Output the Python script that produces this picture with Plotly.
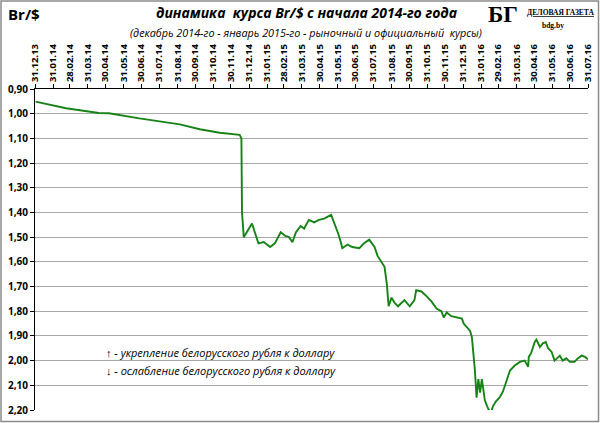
import plotly.graph_objects as go

# Br/$ rate (new rubles)
dates = [
    '2014-01-01', '2014-02-22', '2014-04-19', '2014-05-06', '2014-06-27', '2014-09-04',
    '2014-10-08', '2014-11-11', '2014-12-15', '2014-12-18', '2014-12-19', '2014-12-22',
    '2015-01-05', '2015-01-13', '2015-01-16', '2015-01-25', '2015-02-05', '2015-02-13',
    '2015-02-23', '2015-03-03', '2015-03-09', '2015-03-15', '2015-03-21', '2015-03-29',
    '2015-04-04', '2015-04-12', '2015-04-21', '2015-04-29', '2015-05-08', '2015-05-20',
    '2015-05-25', '2015-06-01', '2015-06-06', '2015-06-08', '2015-06-17', '2015-06-25',
    '2015-07-07', '2015-07-15', '2015-07-24', '2015-08-02', '2015-08-07', '2015-08-13',
    '2015-08-19', '2015-08-23', '2015-08-26', '2015-08-31', '2015-09-05', '2015-09-11',
    '2015-09-22', '2015-10-01', '2015-10-09', '2015-10-12', '2015-10-21', '2015-10-30',
    '2015-11-07', '2015-11-16', '2015-11-24', '2015-11-28', '2015-12-03', '2015-12-11',
    '2015-12-20', '2015-12-29', '2016-01-01', '2016-01-06', '2016-01-12', '2016-01-15',
    '2016-01-18', '2016-01-20', '2016-01-23', '2016-01-26', '2016-01-29', '2016-02-01',
    '2016-02-04', '2016-02-06', '2016-02-10', '2016-02-14', '2016-02-17', '2016-02-20',
    '2016-02-25', '2016-03-02', '2016-03-08', '2016-03-14', '2016-03-20', '2016-03-28',
    '2016-04-06', '2016-04-14', '2016-04-20', '2016-04-21', '2016-04-25', '2016-05-01',
    '2016-05-04', '2016-05-10', '2016-05-15', '2016-05-20', '2016-05-24', '2016-05-30',
    '2016-06-04', '2016-06-13', '2016-06-18', '2016-06-24', '2016-06-30', '2016-07-08',
    '2016-07-14', '2016-07-20', '2016-07-26', '2016-07-31',
]
rate = [
    0.951, 0.978, 0.997, 0.998, 1.019, 1.043,
    1.063, 1.077, 1.086, 1.100, 1.400, 1.500,
    1.445, 1.500, 1.525, 1.520, 1.540, 1.525,
    1.480, 1.495, 1.500, 1.520, 1.480, 1.455,
    1.465, 1.430, 1.440, 1.430, 1.425, 1.410,
    1.440, 1.485, 1.525, 1.545, 1.530, 1.540,
    1.545, 1.525, 1.510, 1.540, 1.575, 1.600,
    1.620, 1.690, 1.780, 1.745, 1.765, 1.780,
    1.755, 1.780, 1.755, 1.715, 1.720, 1.740,
    1.760, 1.790, 1.800, 1.825, 1.805, 1.820,
    1.825, 1.830, 1.850, 1.865, 1.880, 1.905,
    1.980, 2.035, 2.150, 2.075, 2.130, 2.075,
    2.125, 2.160, 2.185, 2.205, 2.205, 2.185,
    2.165, 2.150, 2.125, 2.085, 2.040, 2.020,
    2.005, 2.000, 2.025, 1.985, 1.970, 1.925,
    1.915, 1.945, 1.930, 1.925, 1.950, 1.965,
    2.000, 1.980, 2.000, 1.990, 2.005, 2.005,
    1.990, 1.980, 1.985, 1.995,
]

tick_dates = [
    '2013-12-31', '2014-01-31', '2014-02-28', '2014-03-31', '2014-04-30', '2014-05-31',
    '2014-06-30', '2014-07-31', '2014-08-31', '2014-09-30', '2014-10-31', '2014-11-30',
    '2014-12-31', '2015-01-31', '2015-02-28', '2015-03-31', '2015-04-30', '2015-05-31',
    '2015-06-30', '2015-07-31', '2015-08-31', '2015-09-30', '2015-10-31', '2015-11-30',
    '2015-12-31', '2016-01-31', '2016-02-29', '2016-03-31', '2016-04-30', '2016-05-31',
    '2016-06-30', '2016-07-31',
]
tick_labels = [f'{d[8:10]}.{d[5:7]}.{d[2:4]}' for d in tick_dates]

W, H = 600, 423
ML, MR, MT, MB = 35, 12, 89, 13
PW, PH = W - ML - MR, H - MT - MB
FONT = 'Open Sans, Noto Sans, sans-serif'
SERIF = 'Liberation Serif, DejaVu Serif, serif'


def px(x):
    return (x - ML) / PW


def py(y):
    return (H - MB - y) / PH


fig = go.Figure(go.Scatter(
    x=dates, y=rate, mode='lines',
    line=dict(color='#178317', width=1.9),
    hovertemplate='%{x|%d.%m.%y}: %{y:.3f}<extra></extra>',
))

fig.update_layout(
    width=W, height=H,
    margin=dict(l=ML, r=MR, t=MT, b=MB),
    paper_bgcolor='white', plot_bgcolor='white',
    separators=', ',
    showlegend=False,
    font=dict(family=FONT, color='black'),
)

fig.update_xaxes(
    type='date', side='top', automargin=False,
    range=['2013-12-31', '2016-07-31'],
    tickmode='array', tickvals=tick_dates, ticktext=tick_labels,
    tickangle=-90, tickfont=dict(size=9.5, weight='bold'),
    ticks='outside', ticklen=4, tickcolor='black',
    showline=True, linecolor='black', linewidth=1,
    showgrid=False, zeroline=False,
)
fig.update_yaxes(
    range=[2.2, 0.9], dtick=0.1, tick0=0.9, tickformat='.2f', automargin=False,
    tickfont=dict(size=10, weight='bold'),
    ticks='outside', ticklen=4, tickcolor='black',
    showline=True, linecolor='black', linewidth=1,
    showgrid=True, gridcolor='#a8a8a8', gridwidth=1.3,
    zeroline=False,
)

# outer frame of the picture
fig.add_shape(type='rect', xref='paper', yref='paper',
              x0=px(1), x1=px(W - 1.5), y0=py(H - 1.5), y1=py(1),
              line=dict(color='#8c8c8c', width=1.5))

texts = [
    dict(x=px(6), y=py(14), text='<b>Br/$</b>', xanchor='left', font=dict(size=15)),
    dict(x=px(307), y=py(13), text='<b><i>динамика  курса Br/$ с начала 2014-го года</i></b>',
         font=dict(size=14)),
    dict(x=px(306), y=py(32), text='<i>(декабрь 2014-го - январь 2015-го - рыночный и официальный  курсы)</i>',
         font=dict(size=10.8)),
    dict(x=px(104), y=py(352), text='<b>↑</b> <i>- укрепление белорусского рубля к доллару</i>',
         xanchor='left', font=dict(size=11)),
    dict(x=px(104), y=py(370), text='<b>↓</b> <i>- ослабление белорусского рубля к доллару</i>',
         xanchor='left', font=dict(size=11)),
    dict(x=px(520), y=py(15), text='<b>БГ</b>', xanchor='right',
         font=dict(size=23, family=SERIF)),
    dict(x=px(596), y=py(13), text='<b><u>ДЕЛОВАЯ ГАЗЕТА</u></b>', xanchor='right',
         font=dict(size=7.5, family=SERIF)),
    dict(x=px(566), y=py(25), text='<b>bdg.by</b>',
         font=dict(size=7.5, family=SERIF)),
]
for t in texts:
    fig.add_annotation(xref='paper', yref='paper', showarrow=False,
                       yanchor='middle', **t)

fig.write_html('out.html', config={'displayModeBar': False},
               post_script="document.body.style.margin='0px';")
